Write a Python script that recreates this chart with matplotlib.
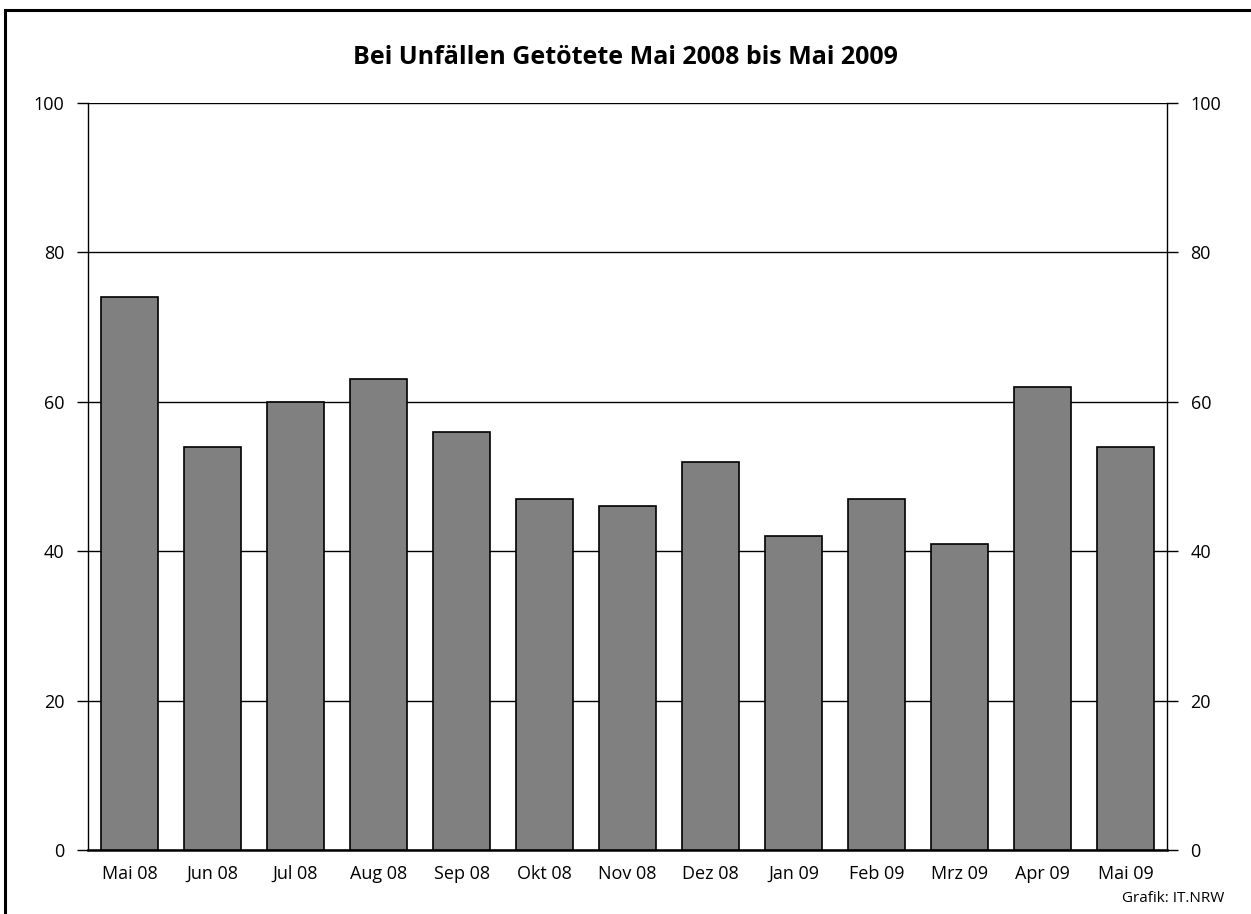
"""Bei Unfällen Getötete Mai 2008 bis Mai 2009 - Balkendiagramm"""
import matplotlib
matplotlib.use('Agg')
import matplotlib.pyplot as plt
from matplotlib.lines import Line2D

plt.rcParams['font.family'] = ['Open Sans', 'DejaVu Sans']

# Daten
monate = ['Mai 08', 'Jun 08', 'Jul 08', 'Aug 08', 'Sep 08', 'Okt 08', 'Nov 08',
          'Dez 08', 'Jan 09', 'Feb 09', 'Mrz 09', 'Apr 09', 'Mai 09']
getoetete = [74, 54, 60, 63, 56, 47, 46, 52, 42, 47, 41, 62, 54]
y_ticks = [0, 20, 40, 60, 80, 100]

fig = plt.figure(figsize=(12.51, 9.14), dpi=100)
fig.patch.set_facecolor('white')
ax = fig.add_axes([88 / 1251, 64 / 914, 1079 / 1251, 747 / 914])

x = range(len(monate))
ax.bar(x, getoetete, width=0.675, color='#808080', edgecolor='black',
       linewidth=1.2, zorder=3)

ax.set_xlim(-0.5, len(monate) - 0.5)
ax.set_ylim(0, 100)
ax.set_yticks(y_ticks)
ax.set_xticks(list(x))
ax.set_xticklabels(monate, fontsize=13)
ax.tick_params(axis='x', length=0, pad=11)
ax.tick_params(axis='y', length=8, width=1, direction='out', labelsize=13,
               pad=9, right=True, labelright=True)
ax.yaxis.grid(True, color='black', linewidth=1, zorder=0)
ax.set_axisbelow(True)

for side in ['left', 'right', 'top']:
    ax.spines[side].set_linewidth(1)
ax.spines['top'].set_visible(False)
ax.spines['bottom'].set_linewidth(1.8)

# Titel und Quelle
fig.text(0.5, 1 - 57 / 914, 'Bei Unfällen Getötete Mai 2008 bis Mai 2009',
         ha='center', va='center', fontsize=18, fontweight='bold')
fig.text(1224 / 1251, 1 - 898 / 914, 'Grafik: IT.NRW', ha='right', va='center',
         fontsize=11)

# Rahmen (nur links und oben)
x0, y0 = 5 / 1251, 1 - 10 / 914
fig.add_artist(Line2D([x0, x0, 1.0], [0.0, y0, y0], transform=fig.transFigure,
                      color='black', linewidth=2.2, solid_joinstyle='miter'))

plt.savefig('out.png', dpi=100, facecolor='white')
